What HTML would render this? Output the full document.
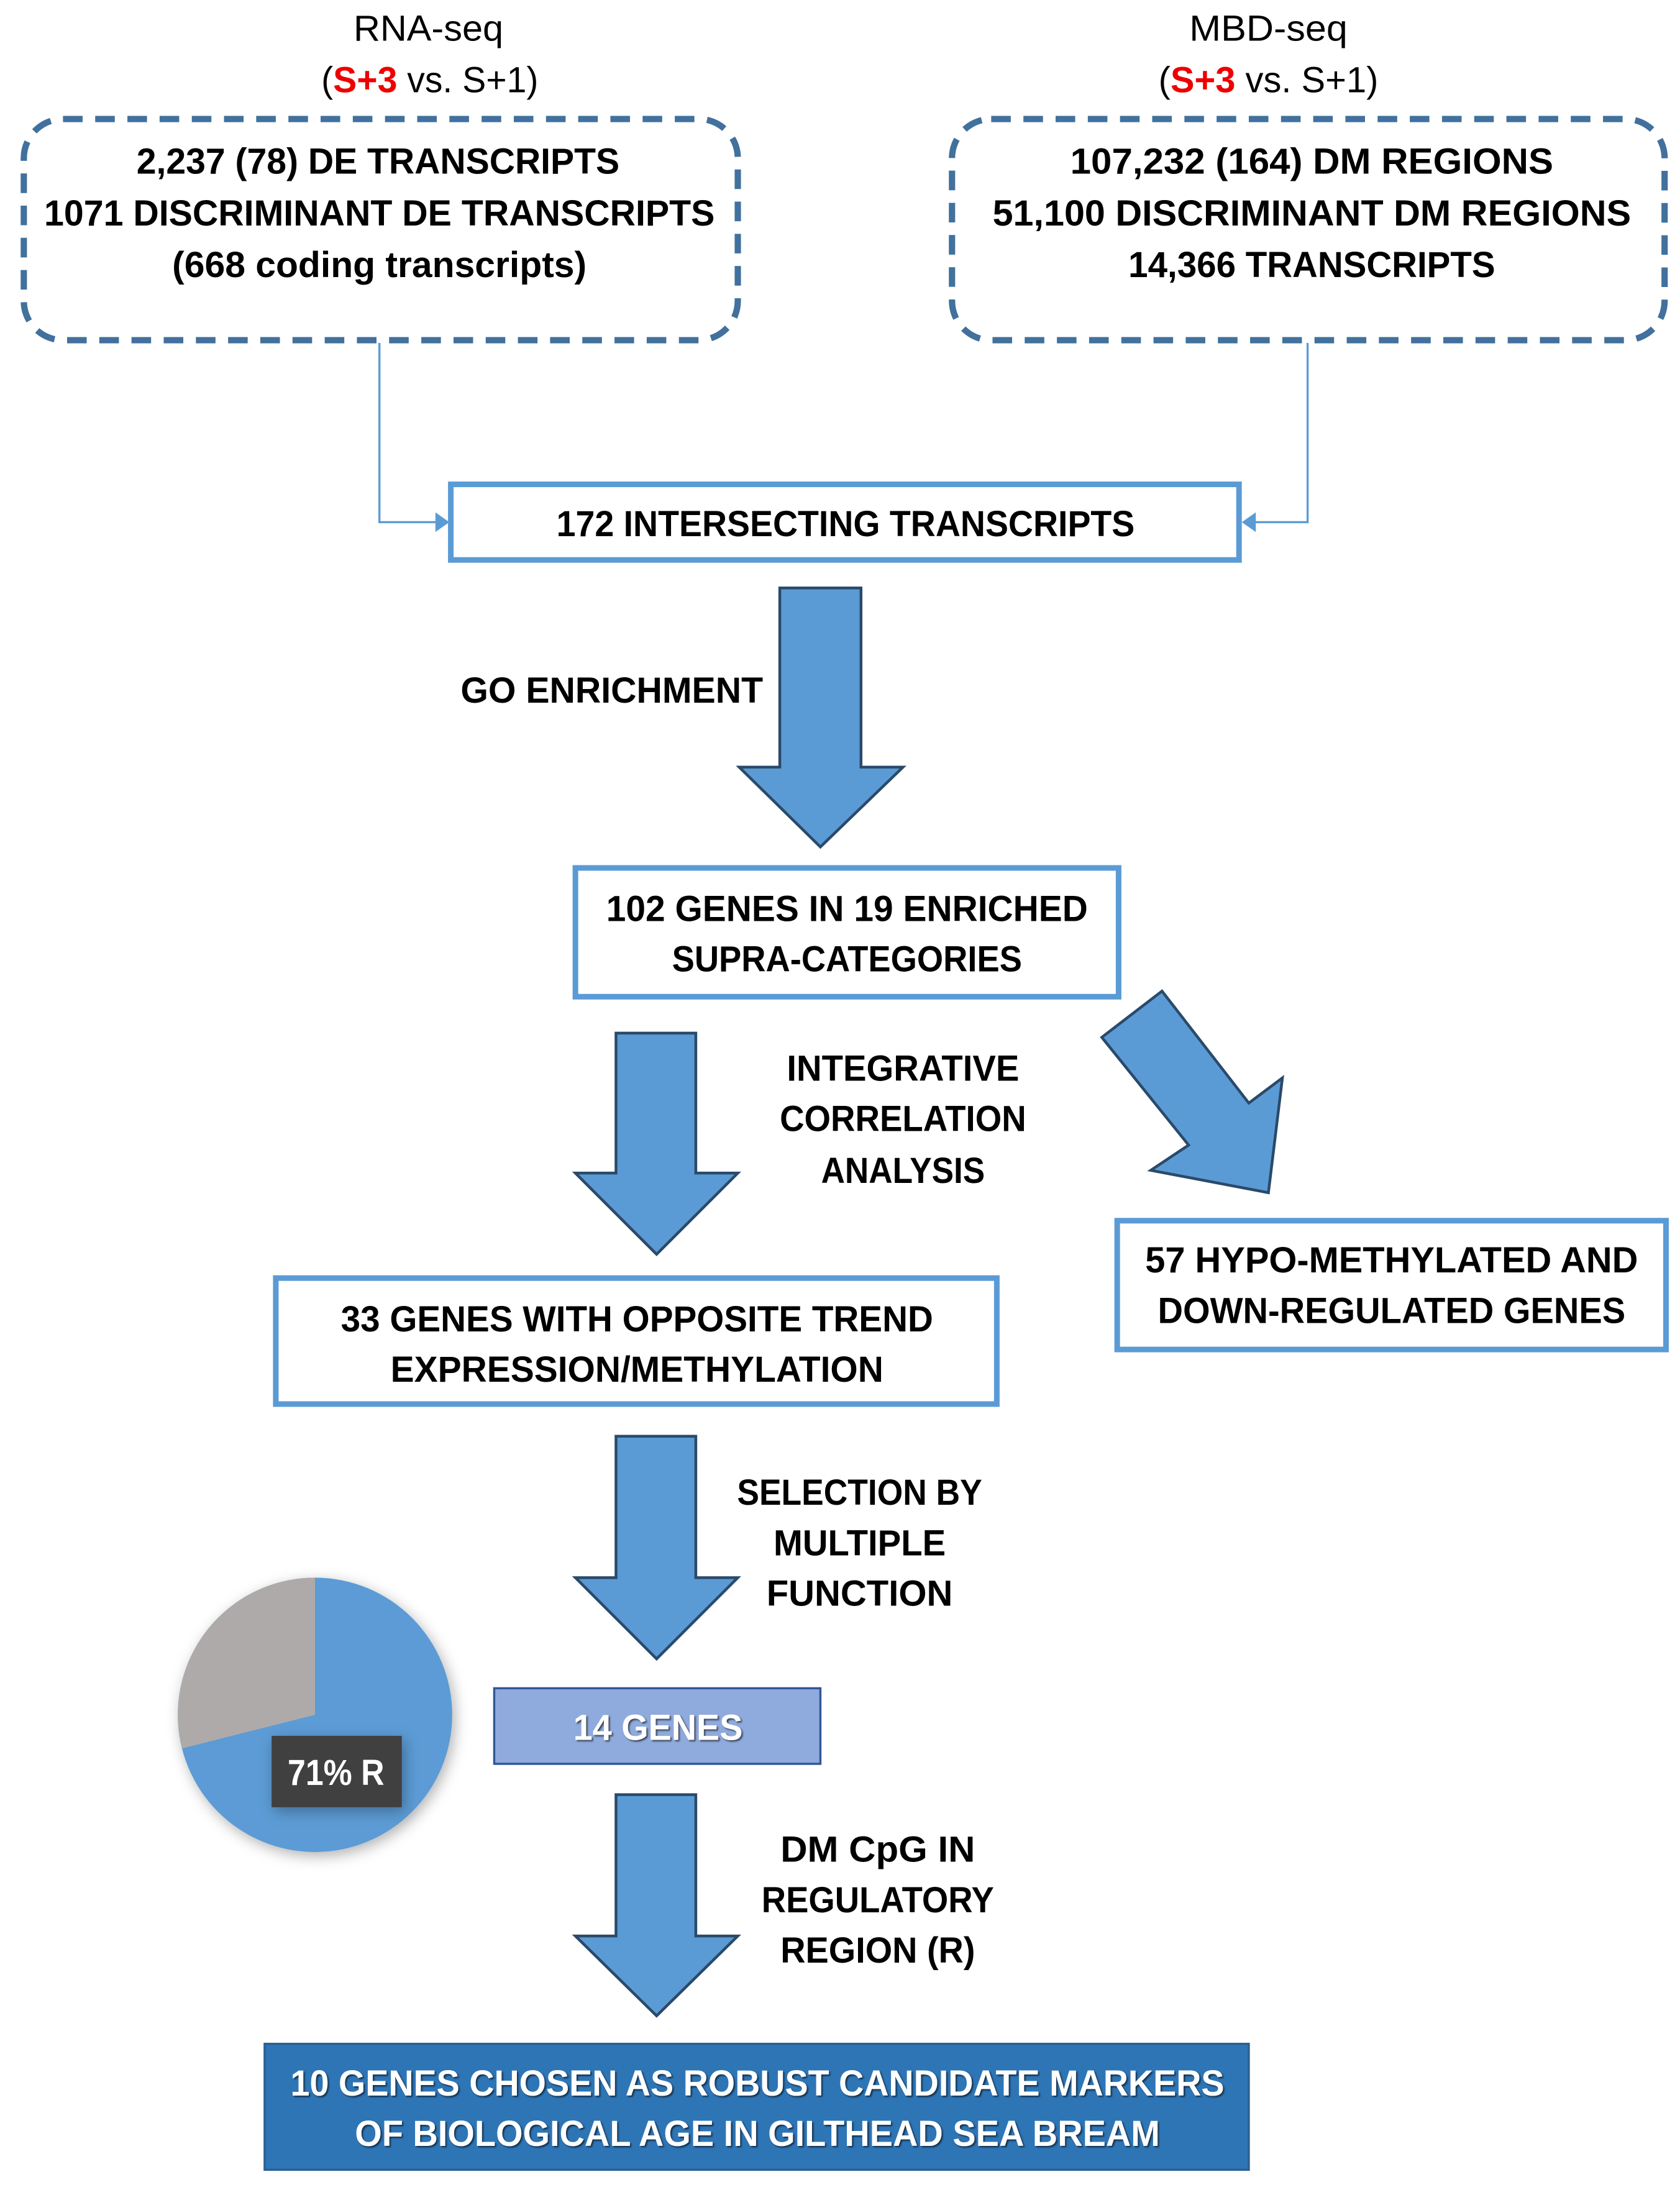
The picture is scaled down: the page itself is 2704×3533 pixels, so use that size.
<!DOCTYPE html>
<html><head><meta charset="utf-8"><style>html,body{margin:0;padding:0;background:#fff}svg{display:block}</style></head>
<body>
<svg width="2704" height="3533" viewBox="0 0 1200 1568" preserveAspectRatio="none" xmlns="http://www.w3.org/2000/svg" font-family="'Liberation Sans', sans-serif" font-size="26">
<defs>
<filter id="sh" x="-30%" y="-30%" width="160%" height="160%"><feDropShadow dx="2" dy="3" stdDeviation="5" flood-color="#000" flood-opacity="0.3"/></filter>
<filter id="ts"><feDropShadow dx="1" dy="1" stdDeviation="0.6" flood-color="#000" flood-opacity="0.6"/></filter>
</defs>
<g text-anchor="middle" lengthAdjust="spacingAndGlyphs">
<!-- titles -->
<text x="306" y="29" textLength="107" lengthAdjust="spacingAndGlyphs">RNA-seq</text>
<text x="307" y="66" textLength="155" lengthAdjust="spacingAndGlyphs">(<tspan fill="#e00" font-weight="bold">S+3</tspan> vs. S+1)</text>
<text x="906" y="29" textLength="113" lengthAdjust="spacingAndGlyphs">MBD-seq</text>
<text x="906" y="66" textLength="157" lengthAdjust="spacingAndGlyphs">(<tspan fill="#e00" font-weight="bold">S+3</tspan> vs. S+1)</text>

<!-- dashed boxes -->
<rect x="17" y="85" width="510" height="158" rx="28" fill="none" stroke="#41719c" stroke-width="4.5" stroke-dasharray="14 9"/>
<rect x="680" y="85" width="509" height="158" rx="28" fill="none" stroke="#41719c" stroke-width="4.5" stroke-dasharray="14 9"/>
<g font-weight="bold">
<text x="270" y="124" textLength="345" lengthAdjust="spacingAndGlyphs">2,237 (78) DE TRANSCRIPTS</text>
<text x="271" y="161" textLength="479" lengthAdjust="spacingAndGlyphs">1071 DISCRIMINANT DE TRANSCRIPTS</text>
<text x="271" y="198" textLength="296" lengthAdjust="spacingAndGlyphs">(668 coding transcripts)</text>
<text x="937" y="124" textLength="345" lengthAdjust="spacingAndGlyphs">107,232 (164) DM REGIONS</text>
<text x="937" y="161" textLength="456" lengthAdjust="spacingAndGlyphs">51,100 DISCRIMINANT DM REGIONS</text>
<text x="937" y="198" textLength="262" lengthAdjust="spacingAndGlyphs">14,366 TRANSCRIPTS</text>
</g>

<!-- connectors -->
<polyline points="271,245 271,373 312,373" fill="none" stroke="#5b9bd5" stroke-width="1.5"/>
<polygon points="321,373 311,366 311,380" fill="#5b9bd5"/>
<polyline points="934,245 934,373 896,373" fill="none" stroke="#5b9bd5" stroke-width="1.5"/>
<polygon points="887,373 897,366 897,380" fill="#5b9bd5"/>

<rect x="322" y="346" width="563" height="54" fill="#fff" stroke="#5b9bd5" stroke-width="4"/>
<text x="604" y="383" font-weight="bold" textLength="413" lengthAdjust="spacingAndGlyphs">172 INTERSECTING TRANSCRIPTS</text>

<!-- arrows -->
<g fill="#5b9bd5" stroke="#2a4a6a" stroke-width="2">
<polygon points="557,420 615,420 615,548 645,548 586,605 528,548 557,548"/>
<polygon points="440,738 497,738 497,838 527,838 469,896 411,838 440,838"/>
<polygon points="440,1026 497,1026 497,1127 527,1127 469,1185 411,1127 440,1127"/>
<polygon points="440,1282 497,1282 497,1383 527,1383 469,1440 411,1383 440,1383"/>
<polygon points="787,741 830,708 892,788 916,770 906,852 822,836 849,818"/>
</g>

<g font-weight="bold">
<text x="437" y="502" textLength="216" lengthAdjust="spacingAndGlyphs">GO ENRICHMENT</text>
<text x="645" y="772" textLength="166" lengthAdjust="spacingAndGlyphs">INTEGRATIVE</text>
<text x="645" y="808" textLength="176" lengthAdjust="spacingAndGlyphs">CORRELATION</text>
<text x="645" y="845" textLength="117" lengthAdjust="spacingAndGlyphs">ANALYSIS</text>
<text x="614" y="1075" textLength="175" lengthAdjust="spacingAndGlyphs">SELECTION BY</text>
<text x="614" y="1111" textLength="123" lengthAdjust="spacingAndGlyphs">MULTIPLE</text>
<text x="614" y="1147" textLength="133" lengthAdjust="spacingAndGlyphs">FUNCTION</text>
<text x="627" y="1330" textLength="139" lengthAdjust="spacingAndGlyphs">DM CpG IN</text>
<text x="627" y="1366" textLength="166" lengthAdjust="spacingAndGlyphs">REGULATORY</text>
<text x="627" y="1402" textLength="139" lengthAdjust="spacingAndGlyphs">REGION (R)</text>
</g>

<!-- boxes -->
<rect x="411" y="620" width="388" height="92" fill="#fff" stroke="#5b9bd5" stroke-width="4"/>
<text x="605" y="658" font-weight="bold" textLength="344" lengthAdjust="spacingAndGlyphs">102 GENES IN 19 ENRICHED</text>
<text x="605" y="694" font-weight="bold" textLength="250" lengthAdjust="spacingAndGlyphs">SUPRA-CATEGORIES</text>

<rect x="798" y="872" width="392" height="92" fill="#fff" stroke="#5b9bd5" stroke-width="4"/>
<text x="994" y="909" font-weight="bold" textLength="352" lengthAdjust="spacingAndGlyphs">57 HYPO-METHYLATED AND</text>
<text x="994" y="945" font-weight="bold" textLength="334" lengthAdjust="spacingAndGlyphs">DOWN-REGULATED GENES</text>

<rect x="197" y="913" width="515" height="90" fill="#fff" stroke="#5b9bd5" stroke-width="4"/>
<text x="455" y="951" font-weight="bold" textLength="423" lengthAdjust="spacingAndGlyphs">33 GENES WITH OPPOSITE TREND</text>
<text x="455" y="987" font-weight="bold" textLength="352" lengthAdjust="spacingAndGlyphs">EXPRESSION/METHYLATION</text>

<rect x="353" y="1206" width="233" height="54" fill="#8faadc" stroke="#2f5597" stroke-width="1.5"/>
<text x="470" y="1243" font-weight="bold" fill="#fff" filter="url(#ts)" textLength="121" lengthAdjust="spacingAndGlyphs">14 GENES</text>

<!-- pie -->
<g filter="url(#sh)">
<circle cx="225" cy="1225" r="98" fill="#5b9bd5"/>
<path d="M225,1225 L130,1249 A98,98 0 0 1 225,1127 Z" fill="#aeaaaa"/>
</g>
<rect x="194" y="1240" width="93" height="51" fill="#404040" filter="url(#sh)"/>
<text x="240" y="1275" font-weight="bold" fill="#fff" textLength="69" lengthAdjust="spacingAndGlyphs">71% R</text>

<!-- bottom -->
<rect x="189" y="1460" width="703" height="90" fill="#2e75b6" stroke="#2a5f90" stroke-width="1.5"/>
<text x="541" y="1497" font-weight="bold" fill="#fff" filter="url(#ts)" textLength="667" lengthAdjust="spacingAndGlyphs">10 GENES CHOSEN AS ROBUST CANDIDATE MARKERS</text>
<text x="541" y="1533" font-weight="bold" fill="#fff" filter="url(#ts)" textLength="575" lengthAdjust="spacingAndGlyphs">OF BIOLOGICAL AGE IN GILTHEAD SEA BREAM</text>
</g>
</svg>
</body></html>
